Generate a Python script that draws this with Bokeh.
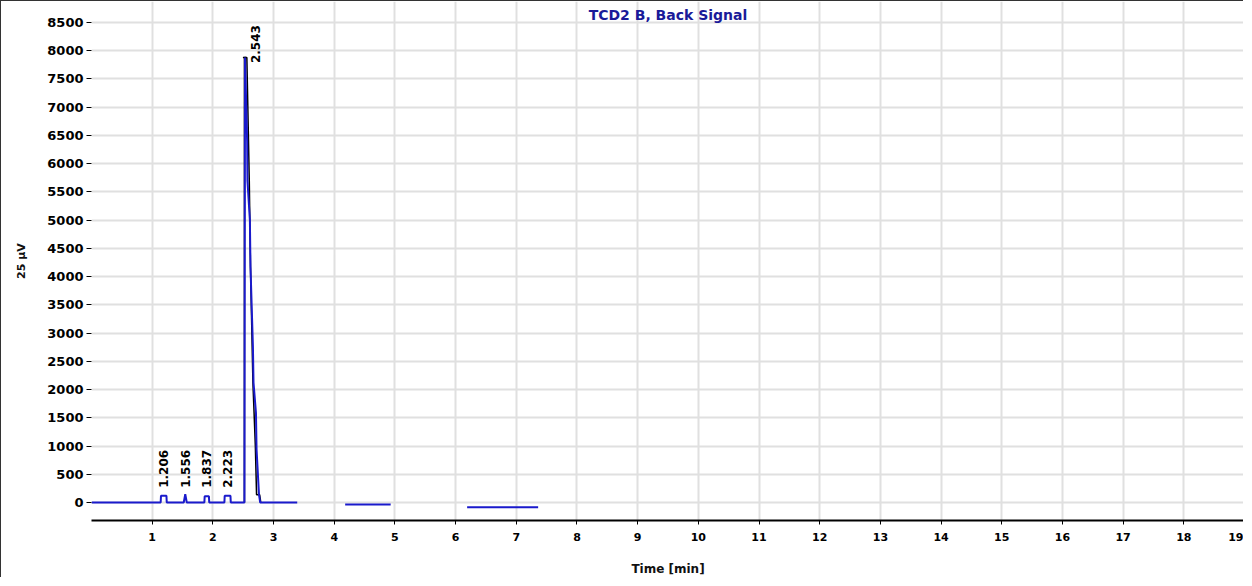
import math
from bokeh.plotting import figure
from bokeh.models import Range1d, FixedTicker, Label, ColumnDataSource
from bokeh.core.properties import value
from bokeh.embed import file_html
from bokeh.resources import INLINE

NaN = float("nan")

# ---- data ----
title_text = "TCD2 B, Back Signal"
x_label = "Time [min]"
y_label = "25 µV"
x_ticks = list(range(1, 20))
y_ticks = list(range(0, 8501, 500))

# blue detector signal (time in min, response); NaN separates traces
sig_t = [0.0, 1.14, 1.145, 1.235, 1.24, 1.52, 1.545, 1.57, 1.86, 1.865, 1.935, 1.94,
         2.19, 2.195, 2.29, 2.295, 2.52, 2.53, 2.565, 2.57, 2.61, 2.62, 2.66, 2.67,
         2.71, 2.72, 2.76, 2.78, 3.39,
         NaN, 4.18, 4.93,
         NaN, 6.19, 7.36]
sig_y = [0, 0, 120, 120, 0, 0, 150, 0, 0, 110, 110, 0,
         0, 120, 120, 0, 0, 7880, 6400, 5700, 5000, 4170, 2760, 2120,
         1590, 940, 140, 0, 0,
         NaN, -35, -35,
         NaN, -83, -83]

# black integration outline of main peak
int_t = [2.52, 2.52, 2.56, 2.60, 2.62, 2.66, 2.70, 2.72, 2.77, 2.79]
int_y = [0, 7880, 7880, 5700, 4170, 2120, 1000, 140, 140, 0]
apex_t = 2.525
apex_y = 7880

# peak retention-time labels
peak_lbl = ["1.206", "1.556", "1.837", "2.223", "2.543"]
peak_lbl_x = [1.19, 1.545, 1.89, 2.245, 2.70]
peak_lbl_y = [260, 260, 260, 260, 7780]

W, H = 1243, 577
p = figure(width=W, height=H, output_backend="svg", toolbar_location=None,
           x_range=Range1d(0, 19), y_range=Range1d(-318, 8871),
           min_border_left=90, min_border_right=0, min_border_top=0,
           min_border_bottom=57)
p.styles = {"border-left": "1px solid #333333", "border-top": "1px solid #333333"}
p.outline_line_color = None
p.background_fill_color = "white"
p.border_fill_color = "white"

# grid
p.xgrid.ticker = FixedTicker(ticks=x_ticks)
p.ygrid.ticker = FixedTicker(ticks=y_ticks)
for g in (p.xgrid, p.ygrid):
    g.grid_line_color = "#e0e0e0"
    g.grid_line_width = 2

# axes
xa = p.xaxis[0]
xa.ticker = FixedTicker(ticks=x_ticks)
xa.axis_line_color = "black"
xa.axis_line_width = 2
xa.major_tick_out = 4
xa.major_tick_in = 0
xa.minor_tick_line_color = None
xa.major_label_standoff = 8
xa.major_label_text_font = "DejaVu Sans"
xa.major_label_text_font_style = "bold"
xa.major_label_text_font_size = "11px"
xa.major_label_text_color = "black"
xa.axis_label = x_label
xa.axis_label_text_font = "DejaVu Sans"
xa.axis_label_text_font_style = "bold"
xa.axis_label_text_font_size = "12px"
xa.axis_label_text_color = "#111111"
xa.axis_label_standoff = 18

ya = p.yaxis[0]
ya.ticker = FixedTicker(ticks=y_ticks)
ya.axis_line_color = None
ya.major_tick_out = 5
ya.major_tick_in = 0
ya.minor_tick_line_color = None
ya.major_label_standoff = 3
ya.major_label_text_font = "DejaVu Sans"
ya.major_label_text_font_style = "bold"
ya.major_label_text_font_size = "13px"
ya.major_label_text_color = "black"
ya.axis_label = y_label
ya.axis_label_text_font = "DejaVu Sans"
ya.axis_label_text_font_style = "bold"
ya.axis_label_text_font_size = "11px"
ya.axis_label_text_color = "#111111"
ya.axis_label_standoff = 16

# traces
p.line(int_t, int_y, line_color="black", line_width=1.5)
p.segment(x0=[apex_t - 0.03], y0=[apex_y], x1=[apex_t + 0.02], y1=[apex_y],
          line_color="black", line_width=1.5)
p.line(sig_t, sig_y, line_color="#1a1acc", line_width=2)

# peak labels
src = ColumnDataSource(dict(x=peak_lbl_x, y=peak_lbl_y, t=peak_lbl))
p.text(x="x", y="y", text="t", source=src, angle=math.pi / 2,
       text_align="left", text_baseline="middle",
       text_font=value("DejaVu Sans"), text_font_style="bold",
       text_font_size="12px", text_color="black")

# title inside plot area
p.add_layout(Label(x=9.5, y=8871, y_offset=-5, text=title_text,
                   text_align="center", text_baseline="top",
                   text_font="DejaVu Sans", text_font_style="bold",
                   text_font_size="14px", text_color="#1a1a99"))

open("out.html", "w").write(file_html(p, INLINE))
